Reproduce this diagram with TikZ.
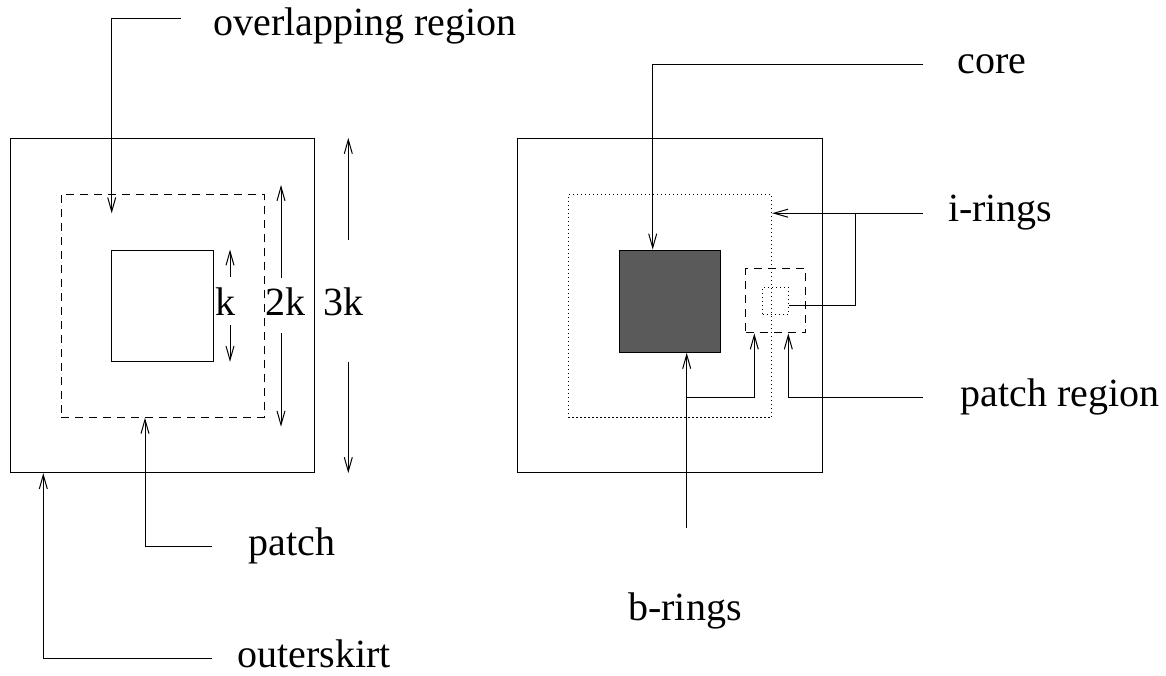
\documentclass[tikz,border=0pt]{standalone}
\usepackage{fontspec}
\setmainfont{Liberation Serif}
\usepackage{tikz}
\usetikzlibrary{arrows.meta, positioning, calc}
\tikzset{every node/.style={font=\fontsize{20pt}{24pt}\selectfont}}
\definecolor{coregray}{HTML}{5A5A5A}

\begin{document}
\begin{tikzpicture}[
    x=0.5pt, y=-0.5pt,
    line width=0.5pt,
    >={Straight Barb[length=7pt, width=4pt]},
    frame/.style={draw, inner sep=0pt},
    dashframe/.style={frame, dash pattern=on 4pt off 3pt},
    dotframe/.style={frame, dash pattern=on 0.6pt off 1.4pt},
    lbl/.style={inner xsep=16pt, inner ysep=0pt, text height=13pt, text depth=4.5pt, anchor=base west},
    dimlbl/.style={inner sep=0pt, anchor=base west},
  ]
  \useasboundingbox (0,0) rectangle (1166,675);

  \node[frame, minimum width=152.15pt, minimum height=167.1pt] (outerL) at (162.8,305.5) {};
  \node[dashframe, minimum width=101.5pt, minimum height=111.5pt] (patchL) at (162.5,305.8) {};
  \node[frame, minimum width=50.8pt, minimum height=55.65pt] (innerL) at (162.5,305.65) {};

  \node[lbl] (ovl) at (181,35) {overlapping region};
  \node[lbl] (patchlbl) at (216,555) {patch};
  \node[lbl] (osk) at (205,667) {outerskirt};
  \node[dimlbl] (klbl) at (215,315) {k};
  \node[dimlbl] (k2lbl) at (265,315) {2k};
  \node[dimlbl] (k3lbl) at (323.3,315) {3k};

  \coordinate (leadL) at (212,0);
  \coordinate (ovlknee) at (111.7,18);
  \coordinate (ovltip) at (111.7,213.3);
  \coordinate (ptip) at (145,0);
  \coordinate (otip) at (43.3,0);
  \draw[->] (ovl.west |- ovlknee) -- (ovlknee) -- (ovltip);
  \draw[->] (patchlbl.west -| leadL) -| (ptip |- patchL.south);
  \draw[->] (osk.west -| leadL) -| (otip |- outerL.south);

  \coordinate (ka) at (230,276.7);
  \coordinate (kb) at (230,325);
  \coordinate (k2a) at (281,278);
  \coordinate (k2b) at (281,333);
  \coordinate (k2t) at (281,185);
  \coordinate (k2s) at (281,426.7);
  \coordinate (k3a) at (348.3,240);
  \coordinate (k3b) at (348.3,361.7);
  \draw[->] (ka) -- (ka |- innerL.north);
  \draw[->] (kb) -- (kb |- innerL.south);
  \draw[->] (k2a) -- (k2t);
  \draw[->] (k2b) -- (k2s);
  \draw[->] (k3a) -- (k3a |- outerL.north);
  \draw[->] (k3b) -- (k3b |- outerL.south);

  \node[frame, minimum width=152.5pt, minimum height=167.1pt] (outerR) at (669.8,305.5) {};
  \node[dotframe, minimum width=101.7pt, minimum height=111.5pt] (ringR) at (670,305.8) {};
  \node[frame, fill=coregray, minimum width=50.7pt, minimum height=51.15pt] (core) at (670,301.2) {};
  \node[dashframe, minimum width=29.9pt, minimum height=32.15pt] (patchR) at (775.6,300.8) {};
  \node[dotframe, minimum width=12.8pt, minimum height=13.5pt] (cellR) at (775.5,300.8) {};

  \node[lbl] (corelbl) at (925,73.3) {core};
  \node[lbl] (irl) at (915.5,221.7) {i-rings};
  \node[lbl] (prl) at (928,406) {patch region};
  \node[anchor=base] (brl) at (685,620) {b-rings};

  \coordinate (leadR) at (923,0);
  \coordinate (corex) at (652.7,0);
  \coordinate (ibranch) at (855.7,0);
  \coordinate (prx) at (788.3,0);
  \coordinate (brx) at (754.3,0);
  \coordinate (brfoot) at (686.7,528.3);
  \draw[->] (corelbl.west -| leadR) -| (corex |- core.north);
  \draw[->] (irl.west -| leadR) -- (irl.west -| ringR.east);
  \draw (irl.west -| ibranch) |- ([yshift=-2.45pt]cellR.east);
  \draw[->] (prl.west -| leadR) -| (prx |- patchR.south);
  \draw[->] (brfoot) -- (brfoot |- core.south);
  \draw[->] (brfoot |- prl.west) -| (brx |- patchR.south);
\end{tikzpicture}
\end{document}
